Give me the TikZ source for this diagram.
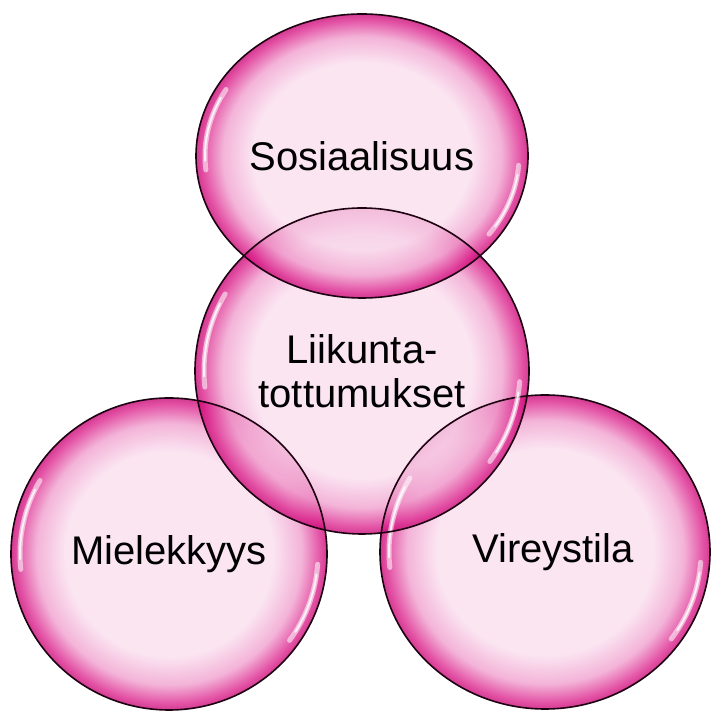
\documentclass[tikz,border=0pt]{standalone}
\usepackage{fontspec}
\setmainfont{Liberation Sans}
\usetikzlibrary{shapes.geometric}

\definecolor{bubcore}{RGB}{250,222,238}
\definecolor{bubmid}{RGB}{240,160,206}
\definecolor{bubrim}{RGB}{220,38,142}
\definecolor{bubdark}{RGB}{200,10,118}
\pgfdeclareradialshading{bubble}{\pgfpoint{0bp}{0bp}}{color(0bp)=(bubcore); color(16.5bp)=(bubcore); color(21bp)=(bubmid); color(24bp)=(bubrim); color(25bp)=(bubdark); color(50bp)=(bubdark)}

\begin{document}
\begin{tikzpicture}[x=1pt, y=1pt, line width=1.6pt,
    bub/.style={ellipse, shading=bubble, fill opacity=0.8, text opacity=1,
        inner sep=0pt, align=center, font=\fontsize{40}{44}\selectfont},
    rim/.style={draw=black!85!bubdark},
    glint/.style={white, line width=5pt, line cap=round, opacity=0.55}]
    \useasboundingbox (0,0) rectangle (712,711);

    \node[bub, minimum width=316, minimum height=312] (miel) at (169,157) {Mielekkyys};
    \node[bub, minimum width=330, minimum height=314] (vire) at (545,159) {\hspace*{16pt}Vireystila};
    \node[bub, minimum width=334, minimum height=326] (liik) at (362,340) {Liikunta-\\tottumukset};
    \node[bub, minimum width=332, minimum height=284] (sosi) at (362,555) {Sosiaalisuus};

    % outlines on top, and white glints on the rims
    \foreach \n/\rx/\ry in {miel/158/156, vire/165/157, liik/167/163, sosi/166/142} {
        \draw[rim] (\n.center) ellipse [x radius=\rx, y radius=\ry];
        \draw[glint] (\n.center) ++(150:{\rx-9} and {\ry-9})
            arc[start angle=150, end angle=186, x radius=\rx-9, y radius=\ry-9];
        \draw[glint, line width=2pt, opacity=0.8] (\n.center) ++(154:{\rx-9} and {\ry-9})
            arc[start angle=154, end angle=182, x radius=\rx-9, y radius=\ry-9];
        \draw[glint] (\n.center) ++(-36:{\rx-9} and {\ry-9})
            arc[start angle=-36, end angle=-4, x radius=\rx-9, y radius=\ry-9];
        \draw[glint, line width=2pt, opacity=0.8] (\n.center) ++(-32:{\rx-9} and {\ry-9})
            arc[start angle=-32, end angle=-8, x radius=\rx-9, y radius=\ry-9];
    }
\end{tikzpicture}
\end{document}
